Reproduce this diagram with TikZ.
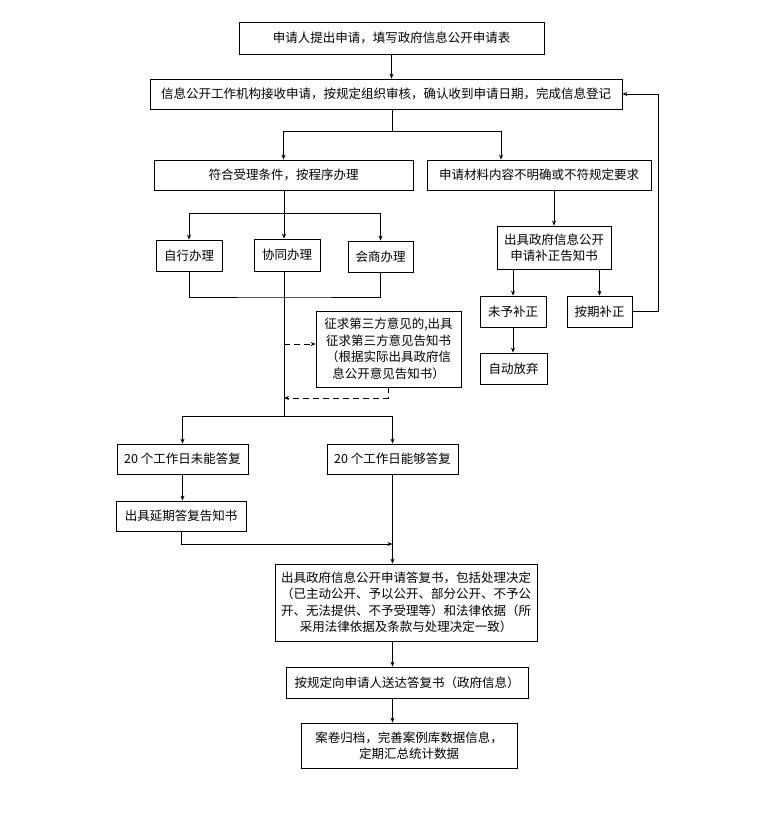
\documentclass[tikz,border=0pt]{standalone}
\usepackage{fontspec}
\setmainfont{Noto Sans CJK SC}
\usetikzlibrary{arrows.meta}

\tikzset{
  box/.style={draw,inner sep=0pt,align=center,font=\fontsize{12.5}{16.5}\selectfont},
  arr/.style={-{Stealth[length=5pt,width=4pt]}},
  dashline/.style={dash pattern=on 6pt off 4pt}
}

\begin{document}
\begin{tikzpicture}[x=1pt,y=-1pt,line width=0.8pt]
            \useasboundingbox (0,0) rectangle (776,817);
            \node[box,minimum width=305,minimum height=32] (apply) at (391.5,38) {申请人提出申请，填写政府信息公开申请表};
            \node[box,minimum width=472,minimum height=30] (register) at (386,94) {信息公开工作机构接收申请，按规定组织审核，确认收到申请日期，完成信息登记};
            \node[box,minimum width=259,minimum height=30] (accept) at (283.5,175) {符合受理条件，按程序办理};
            \node[box,minimum width=224,minimum height=30] (unclear) at (539,175) {申请材料内容不明确或不符规定要求};
            \node[box,minimum width=66,minimum height=31] (self) at (189,255.5) {自行办理};
            \node[box,minimum width=66,minimum height=32] (joint) at (287,255) {协同办理};
            \node[box,minimum width=65,minimum height=31] (consult) at (380.5,256.5) {会商办理};
            \node[box,minimum width=114,minimum height=43] (notice) at (554,247.5) {出具政府信息公开\\申请补正告知书};
            \node[box,minimum width=66,minimum height=31] (noamend) at (513,311.5) {未予补正};
            \node[box,minimum width=65,minimum height=31] (amend) at (599.5,311.5) {按期补正};
            \node[box,minimum width=67,minimum height=31] (abandon) at (513.5,368.5) {自动放弃};
            \node[box,minimum width=145,minimum height=76] (third) at (388.5,349) {征求第三方意见的,出具\\征求第三方意见告知书\\（根据实际出具政府信\\息公开意见告知书）};
            \node[box,minimum width=131,minimum height=30] (late) at (182.5,459) {20 个工作日未能答复};
            \node[box,minimum width=131,minimum height=30] (ontime) at (392.5,459) {20 个工作日能够答复};
            \node[box,minimum width=130,minimum height=30] (delay) at (181,516) {出具延期答复告知书};
            \node[box,minimum width=262,minimum height=77] (reply) at (406,602.5) {出具政府信息公开申请答复书，包括处理决定\\（已主动公开、予以公开、部分公开、不予公\\开、无法提供、不予受理等）和法律依据（所\\采用法律依据及条款与处理决定一致）};
            \node[box,minimum width=242,minimum height=31] (deliver) at (407,682.5) {按规定向申请人送达答复书（政府信息）};
            \node[box,minimum width=216,minimum height=45] (archive) at (409,745.5) {案卷归档，完善案例库数据信息，\\定期汇总统计数据};
            \coordinate (s1) at (392,131);
            \coordinate (s1r) at (501,131);
            \coordinate (s2) at (284,213);
            \coordinate (s3) at (284,297);
            \coordinate (s4) at (284,416);
            \coordinate (d1) at (284,344);
            \coordinate (d2) at (284,398);
            \coordinate (back) at (658,311.5);
            \coordinate (m) at (392.5,544);
            \draw[arr] (apply.south) -- (apply.south |- register.north);
            \draw (s1 |- register.south) -- (s1);
            \draw[arr] (s1) -| (accept.north);
            \draw[arr] (s1) -- (s1r) -- (s1r |- unclear.north);
            \draw (s2 |- accept.south) -- (s2);
            \draw[arr] (s2) -| (self.north);
            \draw[arr] (s2) -- (s2 |- joint.north);
            \draw[arr] (s2) -| (consult.north);
            \draw[arr] (notice.north |- unclear.south) -- (notice.north);
            \draw[arr] (noamend.north |- notice.south) -- (noamend.north);
            \draw[arr] (amend.north |- notice.south) -- (amend.north);
            \draw[arr] (noamend.south) -- (noamend.south |- abandon.north);
            \draw[arr] (amend.east) -- (back) |- (register.east);
            \draw (self.south) |- (s3) -| (consult.south);
            \draw (s4 |- joint.south) -- (s4);
            \draw[arr,dashline] (d1) -- (d1 -| third.west);
            \draw[arr,dashline] (third.south) |- (d2);
            \draw[arr] (s4) -| (late.north);
            \draw[arr] (s4) -| (ontime.north);
            \draw[arr] (late.south) -- (late.south |- delay.north);
            \draw[arr] (delay.south) |- (m);
            \draw[arr] (ontime.south) -- (ontime.south |- reply.north);
            \draw[arr] (ontime.south |- reply.south) -- (ontime.south |- deliver.north);
            \draw[arr] (ontime.south |- deliver.south) -- (ontime.south |- archive.north);
\end{tikzpicture}
\end{document}
